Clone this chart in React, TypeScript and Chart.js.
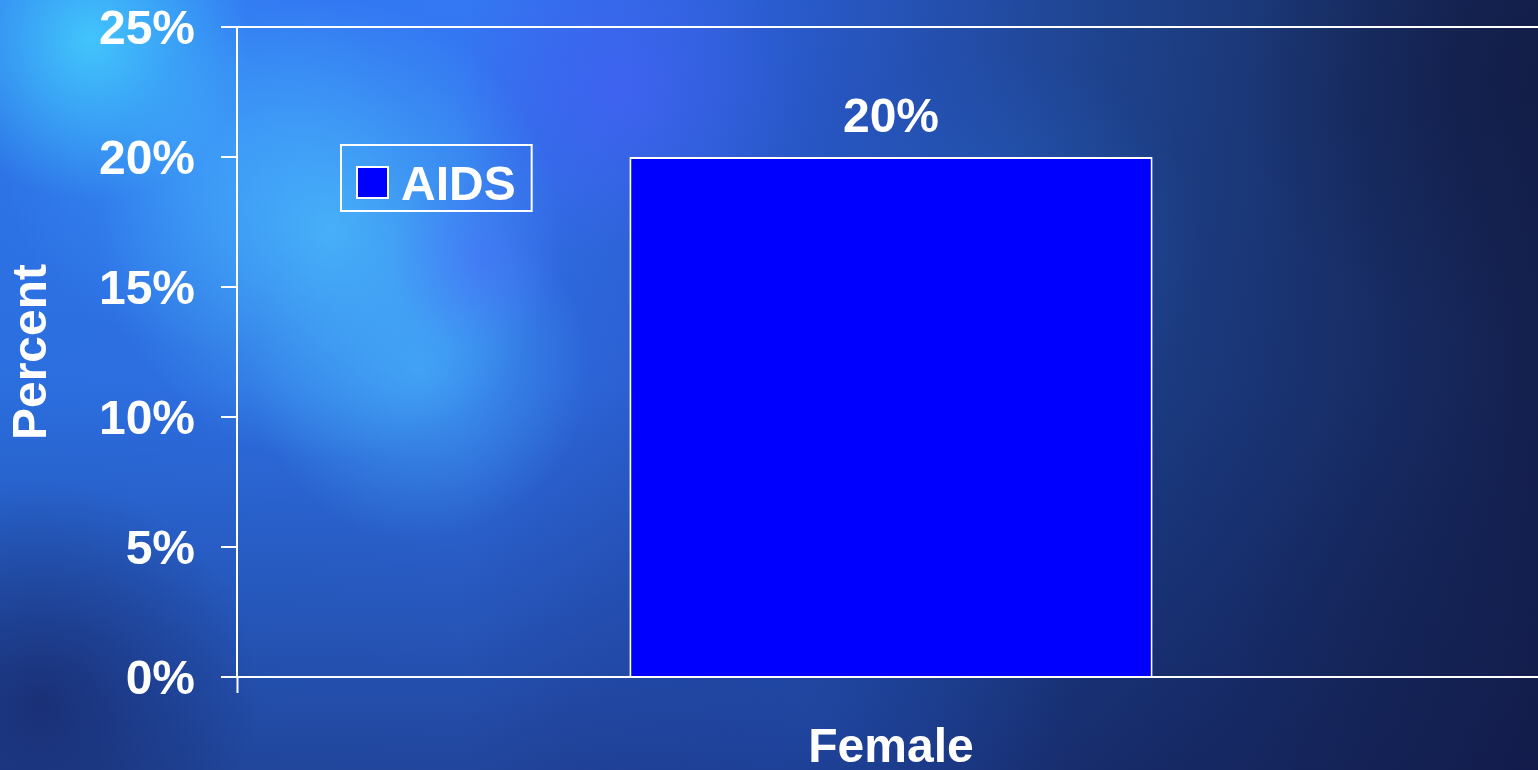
import React, { useEffect, useRef } from "react";
import { Chart, registerables } from "chart.js";

Chart.register(...registerables);

// ---- data ----
const categories = ["Female"];
const seriesLabel = "AIDS";
const aidsValues = [20];
const yMin = 0;
const yMax = 25;
const yStep = 5;

const FONT = "'Liberation Sans', Arial, Helvetica, sans-serif";
const WHITE = "#ffffff";

const bgPlugin = {
  id: "bgTexture",
  beforeDraw(chart: any) {
    const { ctx, width, height } = chart;
    ctx.save();
    const g = ctx.createLinearGradient(0, 0, width, 0);
    g.addColorStop(0, "#2f78ee");
    g.addColorStop(0.3, "#3478f4");
    g.addColorStop(0.5, "#2a5cd0");
    g.addColorStop(0.7, "#1f4592");
    g.addColorStop(0.85, "#1a3470");
    g.addColorStop(1, "#15204c");
    ctx.fillStyle = g;
    ctx.fillRect(0, 0, width, height);

    const v = ctx.createLinearGradient(0, 0, 0, height);
    v.addColorStop(0, "rgba(10,20,80,0)");
    v.addColorStop(0.5, "rgba(10,20,80,0.1)");
    v.addColorStop(1, "rgba(15,20,70,0.5)");
    ctx.fillStyle = v;
    ctx.fillRect(0, 0, width, height);

    const spots: [number, number, number, number[], number][] = [
      [200, 150, 200, [60, 160, 255], 0.5],
      [90, 40, 160, [70, 215, 255], 0.8],
      [330, 230, 230, [80, 200, 255], 0.7],
      [420, 370, 170, [75, 190, 255], 0.55],
      [620, 90, 170, [75, 95, 255], 0.55],
      [480, 260, 90, [80, 90, 255], 0.35],
      [1000, 250, 200, [40, 110, 220], 0.35],
      [820, 720, 250, [35, 90, 190], 0.35],
      [40, 700, 220, [20, 25, 80], 0.55],
      [1500, 80, 260, [15, 25, 65], 0.5],
      [1450, 650, 220, [20, 35, 80], 0.4],
    ];
    for (const [x, y, r, c, a] of spots) {
      const rg = ctx.createRadialGradient(x, y, 0, x, y, r);
      rg.addColorStop(0, `rgba(${c[0]},${c[1]},${c[2]},${a})`);
      rg.addColorStop(1, `rgba(${c[0]},${c[1]},${c[2]},0)`);
      ctx.fillStyle = rg;
      ctx.fillRect(x - r, y - r, 2 * r, 2 * r);
    }
    ctx.restore();
  },
};

const barLabelPlugin = {
  id: "barLabel",
  afterDatasetsDraw(chart: any) {
    const { ctx } = chart;
    ctx.save();
    ctx.fillStyle = WHITE;
    ctx.font = `bold 48px ${FONT}`;
    ctx.textAlign = "center";
    ctx.textBaseline = "alphabetic";
    chart.getDatasetMeta(0).data.forEach((el: any, i: number) => {
      const val = chart.data.datasets[0].data[i];
      ctx.fillText(`${val}%`, el.x, el.y - 25);
    });
    ctx.restore();
  },
};

const boxLegendPlugin = {
  id: "boxLegend",
  afterDraw(chart: any) {
    const { ctx, chartArea } = chart;
    const ds = chart.data.datasets[0];
    const left = chartArea.left + 104;
    const top = 145;
    const h = 66;
    ctx.save();
    ctx.font = `bold 48px ${FONT}`;
    const tw = ctx.measureText(ds.label).width;
    const w = 16 + 31 + 13 + tw + 16;
    ctx.strokeStyle = WHITE;
    ctx.lineWidth = 2;
    ctx.strokeRect(left, top, w, h);
    ctx.fillStyle = ds.backgroundColor;
    ctx.fillRect(left + 16, top + 22, 31, 31);
    ctx.strokeRect(left + 16, top + 22, 31, 31);
    ctx.fillStyle = WHITE;
    ctx.textAlign = "left";
    ctx.textBaseline = "alphabetic";
    ctx.fillText(ds.label, left + 60, top + 55);
    ctx.restore();
  },
};

export default function App() {
  const ref = useRef<HTMLCanvasElement | null>(null);

  useEffect(() => {
    if (!ref.current) return;
    const chart = new Chart(ref.current, {
      type: "bar",
      data: {
        labels: categories,
        datasets: [
          {
            label: seriesLabel,
            data: aidsValues,
            backgroundColor: "#0000ff",
            borderColor: WHITE,
            borderWidth: 2,
            barPercentage: 0.4,
            categoryPercentage: 1,
          },
        ],
      },
      options: {
        responsive: false,
        animation: false,
        layout: { padding: { top: 27, left: 0, right: 0, bottom: 0 } },
        plugins: {
          legend: { display: false },
          tooltip: { enabled: false },
        },
        scales: {
          x: {
            grid: {
              offset: true,
              drawOnChartArea: false,
              drawTicks: true,
              tickLength: 16,
              tickColor: WHITE,
              tickWidth: 2,
            },
            border: { display: true, color: WHITE, width: 2 },
            ticks: {
              color: WHITE,
              font: { family: FONT, size: 48, weight: "bold" },
              padding: 27,
            },
            afterFit: (s: any) => {
              s.height = 93;
              s.paddingLeft = 0;
              s.paddingRight = 0;
            },
          },
          y: {
            min: yMin,
            max: yMax,
            ticks: {
              stepSize: yStep,
              callback: (v: any) => `${v}%`,
              color: WHITE,
              font: { family: FONT, size: 48, weight: "bold", lineHeight: 1.1 },
              padding: 26,
              labelOffset: 4,
            },
            grid: {
              color: (c: any) =>
                c.tick && c.tick.value === yMax ? WHITE : "rgba(0,0,0,0)",
              lineWidth: 2,
              tickLength: 16,
              tickColor: WHITE,
              tickWidth: 2,
            },
            border: { display: true, color: WHITE, width: 2 },
            title: {
              display: true,
              text: "Percent",
              color: WHITE,
              font: { family: FONT, size: 48, weight: "bold" },
              padding: { top: 4, bottom: 0 },
            },
            afterFit: (s: any) => {
              s.width = 237;
              s.paddingTop = 0;
              s.paddingBottom = 0;
            },
          },
        },
      } as any,
      plugins: [bgPlugin, barLabelPlugin, boxLegendPlugin],
    });
    return () => chart.destroy();
  }, []);

  return (
    <div
      style={{
        position: "fixed",
        left: 0,
        top: 0,
        width: "100vw",
        height: "100vh",
        overflow: "hidden",
        background: "#1a2a6a",
      }}
    >
      <canvas
        ref={ref}
        width={1545}
        height={770}
        style={{ display: "block", width: 1545, height: 770 }}
      />
    </div>
  );
}
